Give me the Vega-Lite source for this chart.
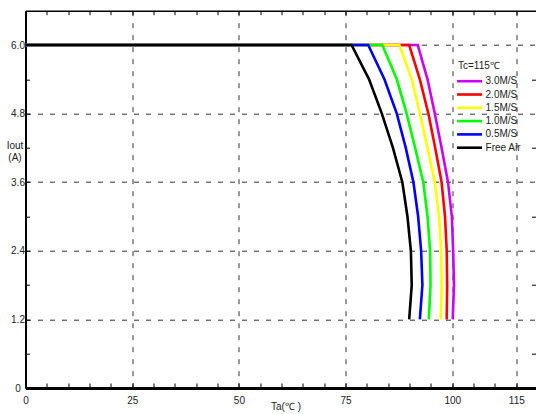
{
  "$schema": "https://vega.github.io/schema/vega-lite/v6.json",
  "width": 510,
  "height": 377.3,
  "autosize": {"type": "none"},
  "padding": {"left": 25.5, "top": 10.7, "right": 0.5, "bottom": 26},
  "background": "white",
  "config": {
    "view": {"stroke": null},
    "font": "Liberation Sans",
    "axis": {"labelFont": "Liberation Sans", "titleFont": "Liberation Sans", "labelColor": "#222", "titleColor": "#222"}
  },
  "data": {
    "values": [
      {"series": "3.0M/S", "x": 0, "y": 6},
      {"series": "3.0M/S", "x": 91.9, "y": 6},
      {"series": "3.0M/S", "x": 94.2, "y": 5.4},
      {"series": "3.0M/S", "x": 95.9, "y": 4.8},
      {"series": "3.0M/S", "x": 97.5, "y": 4.2},
      {"series": "3.0M/S", "x": 99.0, "y": 3.6},
      {"series": "3.0M/S", "x": 99.9, "y": 3.0},
      {"series": "3.0M/S", "x": 100.2, "y": 2.4},
      {"series": "3.0M/S", "x": 100.4, "y": 1.8},
      {"series": "3.0M/S", "x": 100.1, "y": 1.2},
      {"series": "2.0M/S", "x": 0, "y": 6},
      {"series": "2.0M/S", "x": 89.9, "y": 6},
      {"series": "2.0M/S", "x": 92.4, "y": 5.4},
      {"series": "2.0M/S", "x": 94.4, "y": 4.8},
      {"series": "2.0M/S", "x": 96.0, "y": 4.2},
      {"series": "2.0M/S", "x": 97.5, "y": 3.6},
      {"series": "2.0M/S", "x": 98.3, "y": 3.0},
      {"series": "2.0M/S", "x": 98.7, "y": 2.4},
      {"series": "2.0M/S", "x": 98.8, "y": 1.8},
      {"series": "2.0M/S", "x": 98.7, "y": 1.2},
      {"series": "1.5M/S", "x": 0, "y": 6},
      {"series": "1.5M/S", "x": 87.6, "y": 6},
      {"series": "1.5M/S", "x": 90.5, "y": 5.4},
      {"series": "1.5M/S", "x": 92.4, "y": 4.8},
      {"series": "1.5M/S", "x": 94.2, "y": 4.2},
      {"series": "1.5M/S", "x": 95.9, "y": 3.6},
      {"series": "1.5M/S", "x": 96.9, "y": 3.0},
      {"series": "1.5M/S", "x": 97.4, "y": 2.4},
      {"series": "1.5M/S", "x": 97.5, "y": 1.8},
      {"series": "1.5M/S", "x": 97.3, "y": 1.2},
      {"series": "1.0M/S", "x": 0, "y": 6},
      {"series": "1.0M/S", "x": 83.6, "y": 6},
      {"series": "1.0M/S", "x": 87.0, "y": 5.4},
      {"series": "1.0M/S", "x": 89.3, "y": 4.8},
      {"series": "1.0M/S", "x": 91.3, "y": 4.2},
      {"series": "1.0M/S", "x": 93.2, "y": 3.6},
      {"series": "1.0M/S", "x": 94.2, "y": 3.0},
      {"series": "1.0M/S", "x": 94.8, "y": 2.4},
      {"series": "1.0M/S", "x": 94.9, "y": 1.8},
      {"series": "1.0M/S", "x": 94.5, "y": 1.2},
      {"series": "0.5M/S", "x": 0, "y": 6},
      {"series": "0.5M/S", "x": 80.3, "y": 6},
      {"series": "0.5M/S", "x": 84.1, "y": 5.4},
      {"series": "0.5M/S", "x": 87.0, "y": 4.8},
      {"series": "0.5M/S", "x": 89.1, "y": 4.2},
      {"series": "0.5M/S", "x": 90.9, "y": 3.6},
      {"series": "0.5M/S", "x": 92.0, "y": 3.0},
      {"series": "0.5M/S", "x": 92.7, "y": 2.4},
      {"series": "0.5M/S", "x": 93.0, "y": 1.8},
      {"series": "0.5M/S", "x": 92.4, "y": 1.2},
      {"series": "Free Air", "x": 0, "y": 6},
      {"series": "Free Air", "x": 76.4, "y": 6},
      {"series": "Free Air", "x": 80.5, "y": 5.4},
      {"series": "Free Air", "x": 83.5, "y": 4.8},
      {"series": "Free Air", "x": 86.1, "y": 4.2},
      {"series": "Free Air", "x": 88.3, "y": 3.6},
      {"series": "Free Air", "x": 89.5, "y": 3.0},
      {"series": "Free Air", "x": 90.3, "y": 2.4},
      {"series": "Free Air", "x": 90.5, "y": 1.8},
      {"series": "Free Air", "x": 89.9, "y": 1.2}
    ]
  },
  "layer": [
    {
      "mark": {"type": "line", "opacity": 0},
      "encoding": {
        "x": {
          "field": "x", "type": "quantitative",
          "scale": {"domain": [0, 119.5], "nice": false, "zero": false},
          "axis": {
            "orient": "top", "values": [5, 10, 15, 20, 25, 30, 35, 40, 45, 50, 55, 60, 65, 70, 75, 80, 85, 90, 95, 100, 105, 110, 115],
            "labels": false, "grid": false, "title": null,
            "domain": true, "domainColor": "black", "domainWidth": 1.6,
            "ticks": true, "tickSize": -4, "tickColor": "black", "tickWidth": 1
          }
        },
        "y": {
          "field": "y", "type": "quantitative",
          "scale": {"domain": [0, 6.6], "nice": false, "zero": false},
          "axis": {
            "orient": "right", "values": [0.6, 1.8, 3, 4.2, 5.4],
            "labels": false, "grid": false, "title": null, "domain": false,
            "ticks": true, "tickSize": -4, "tickColor": "black", "tickWidth": 1
          }
        },
        "order": {"field": "y", "sort": "descending"}
      }
    },
    {
      "mark": {"type": "line", "strokeWidth": 2.6},
      "encoding": {
        "x": {
          "field": "x", "type": "quantitative",
          "axis": {
            "orient": "bottom",
            "values": [0, 5, 10, 15, 20, 25, 30, 35, 40, 45, 50, 55, 60, 65, 70, 75, 80, 85, 90, 95, 100, 105, 110, 115],
            "labelExpr": "indexof([0, 25, 50, 75, 100, 115], datum.value) >= 0 ? datum.label : ''",
            "labelFontSize": 10, "labelPadding": 12, "labelFlush": false,
            "domain": true, "domainColor": "black", "domainWidth": 3,
            "ticks": true, "tickSize": -5, "tickColor": "black", "tickWidth": 1,
            "grid": true, "gridColor": "#333", "gridWidth": 1, "gridDash": [5, 7],
            "gridOpacity": {"condition": {"test": "indexof([25, 50, 75, 100, 115], datum.value) >= 0", "value": 1}, "value": 0},
            "title": "Ta(℃ )", "titleFontSize": 10, "titleFontWeight": "normal",
            "titleX": 260, "titleY": 21, "titleBaseline": "alphabetic", "titleAlign": "center"
          }
        },
        "y": {
          "field": "y", "type": "quantitative",
          "axis": {
            "orient": "left",
            "values": [0, 0.6, 1.2, 1.8, 2.4, 3, 3.6, 4.2, 4.8, 5.4, 6],
            "labelExpr": "indexof([1.2, 2.4, 3.6, 4.8, 6], datum.value) >= 0 ? format(datum.value, '.1f') : (datum.value == 0 ? '0' : '')",
            "labelFontSize": 10, "labelPadding": 12, "labelAlign": "center",
            "domain": true, "domainColor": "black", "domainWidth": 2,
            "ticks": true, "tickSize": -4, "tickColor": "black", "tickWidth": 1,
            "grid": true, "gridColor": "#333", "gridWidth": 1, "gridDash": [5, 7],
            "gridOpacity": {"condition": {"test": "indexof([1.2, 2.4, 3.6, 4.8, 6], datum.value) >= 0", "value": 1}, "value": 0},
            "title": ["Iout", "(A)"], "titleAngle": 0, "titleAlign": "center", "titleBaseline": "top",
            "titleX": -11, "titleY": 130, "titleFontSize": 10, "titleFontWeight": "normal", "titleLineHeight": 11.5
          }
        },
        "color": {
          "field": "series", "type": "nominal",
          "scale": {
            "domain": ["3.0M/S", "2.0M/S", "1.5M/S", "1.0M/S", "0.5M/S", "Free Air"],
            "range": ["#cc00ff", "#ff0000", "#ffff00", "#00ff00", "#0000ff", "#000000"]
          },
          "legend": {
            "orient": "none", "legendX": 432.5, "legendY": 50,
            "title": "Tc=115℃", "titleFontSize": 10, "titleFontWeight": "normal", "titleAnchor": "start", "titlePadding": 4,
            "titleColor": "#222", "labelColor": "#222", "labelFont": "Liberation Sans", "titleFont": "Liberation Sans",
            "labelFontSize": 10, "labelOffset": 9.5, "symbolOffset": 5.05,
            "symbolType": "M-2.5,0H2.5", "symbolSize": 100, "symbolStrokeWidth": 2.6, "symbolFillColor": "transparent",
            "rowPadding": 1.3, "padding": 0
          }
        },
        "order": {"field": "y", "sort": "descending"}
      }
    }
  ]
}
